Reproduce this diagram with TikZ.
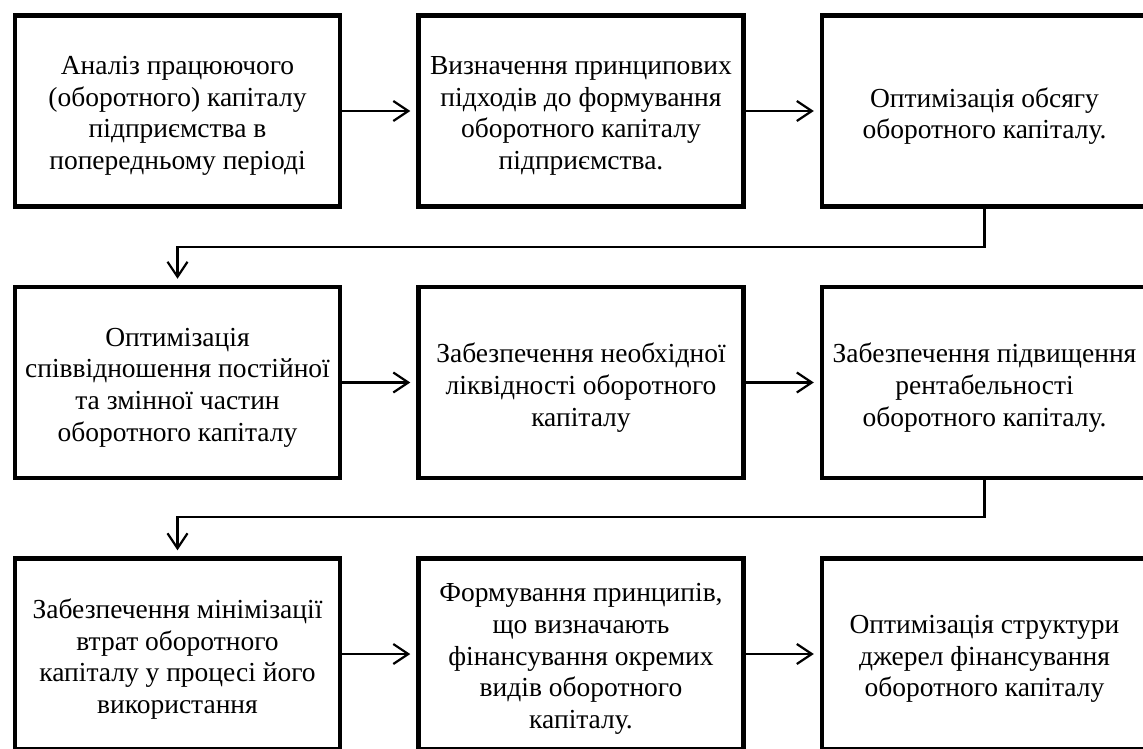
\documentclass[tikz,border=0pt]{standalone}
\usepackage{fontspec}
\setmainfont{Liberation Serif}
\usetikzlibrary{arrows.meta}
\begin{document}
\begin{tikzpicture}[x=1pt,y=-1pt,
  box/.style={draw, line width=4.5pt, minimum width=325pt, minimum height=191pt,
    inner sep=0pt, anchor=center},
  txt/.style={align=center, font=\fontsize{27.5}{31.7}\selectfont, inner sep=0pt, anchor=center},
  conn/.style={line width=2.2pt, -{Straight Barb[length=15pt,width=20pt,line width=2.2pt]}, shorten >=6pt}]
\useasboundingbox (0,0) rectangle (1143,749);
\clip (0,0) rectangle (1143,749);
\fill[white] (0,0) rectangle (1143,749);
% boxes
\node[box] (b1) at (177.5,111) {};
\node[box] (b2) at (581,111) {};
\node[box] (b3) at (984.5,111) {};
\node[box] (b4) at (177.5,382.5) {};
\node[box] (b5) at (581,382.5) {};
\node[box] (b6) at (984.5,382.5) {};
\node[box] (b7) at (177.5,654) {};
\node[box] (b8) at (581,654) {};
\node[box] (b9) at (984.5,654) {};
% texts
\node[txt] (t1) at ([yshift=-5pt]b1.center) {Аналіз працюючого\\(оборотного) капіталу\\підприємства в\\попередньому періоді};
\node[txt] (t2) at ([yshift=-5pt]b2.center) {Визначення принципових\\підходів до формування\\оборотного капіталу\\підприємства.};
\node[txt] (t3) at ([yshift=-5pt]b3.center) {Оптимізація обсягу\\оборотного капіталу.};
\node[txt] (t4) at ([yshift=-5pt]b4.center) {Оптимізація\\співвідношення постійної\\та змінної частин\\оборотного капіталу};
\node[txt] (t5) at ([yshift=-5pt]b5.center) {Забезпечення необхідної\\ліквідності оборотного\\капіталу};
\node[txt] (t6) at ([yshift=-5pt]b6.center) {Забезпечення підвищення\\рентабельності\\оборотного капіталу.};
\node[txt] (t7) at ([yshift=-5pt]b7.center) {Забезпечення мінімізації\\втрат оборотного\\капіталу у процесі його\\використання};
\node[txt] (t8) at ([yshift=-5pt]b8.center) {Формування принципів,\\що визначають\\фінансування окремих\\видів оборотного\\капіталу.};
\node[txt] (t9) at ([yshift=-5pt]b9.center) {Оптимізація структури\\джерел фінансування\\оборотного капіталу};
% connectors
\draw[conn] (b1.east) -- (b2.west);
\draw[conn] (b2.east) -- (b3.west);
\draw[conn] (b4.east) -- (b5.west);
\draw[conn] (b5.east) -- (b6.west);
\draw[conn] (b7.east) -- (b8.west);
\draw[conn] (b8.east) -- (b9.west);
\draw[conn] (b3.south) -- ++(0,38) -| (b4.north);
\draw[conn] (b6.south) -- ++(0,37) -| (b7.north);
\end{tikzpicture}
\end{document}
